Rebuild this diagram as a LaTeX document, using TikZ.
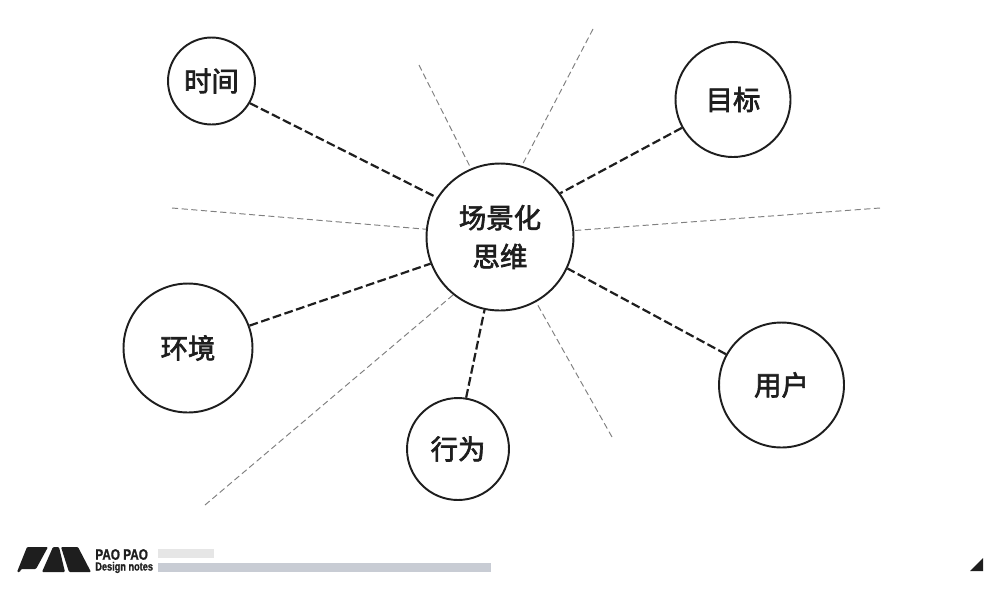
\documentclass[tikz,border=0pt]{standalone}
\usepackage{fontspec}
\setmainfont{Liberation Sans}
\newfontfamily\cjk{Noto Sans CJK SC}[FakeBold=2.4]
\newfontfamily\logofont{Liberation Sans}[FakeStretch=0.78,FakeBold=1]
\definecolor{darkline}{HTML}{1E1E1E}
\definecolor{barlight}{HTML}{E6E6E6}
\definecolor{bargrey}{HTML}{C8CCD4}
\tikzset{
  topic/.style={circle,draw=darkline,line width=1.1pt,fill=white,inner sep=0pt,align=center,
    text=darkline,font=\cjk\fontsize{15.6pt}{22pt}\selectfont},
  mainlink/.style={draw=darkline,line width=1.25pt,dash pattern=on 5pt off 2pt},
  thinlink/.style={draw=gray,line width=0.55pt,dash pattern=on 3.5pt off 2pt},
  logotext/.style={inner sep=0pt,anchor=west,text=darkline}
}
\begin{document}
\begin{tikzpicture}[x=0.02cm,y=-0.02cm]
  \useasboundingbox (0,0) rectangle (1000,589);
  % circles
  \node[topic,minimum size=2.94cm] (center) at (500,237) {场景化\\思维};
  \node[topic,minimum size=1.74cm] (time) at (211.5,81) {时间};
  \node[topic,minimum size=2.3cm] (goal) at (733,99.5) {目标};
  \node[topic,minimum size=2.58cm] (env) at (188,348) {环境};
  \node[topic,minimum size=2.5cm] (user) at (781.5,385) {用户};
  \node[topic,minimum size=2.04cm] (act) at (458,449) {行为};
  % links
  \draw[mainlink] (time.-30.5)--(center.148);
  \draw[mainlink] (goal.209)--(center.36);
  \draw[mainlink] (env.20)--(center.201);
  \draw[mainlink] (user.151)--(center.-25.5);
  \draw[mainlink] (act.81)--(center.258);
  % free ends
  \coordinate (e1) at (419,65);
  \coordinate (e2) at (593,29);
  \coordinate (e3) at (172,208);
  \coordinate (e4) at (880,208);
  \coordinate (e5) at (205,505);
  \coordinate (e6) at (612,437);
  \draw[thinlink] (e1)--(center.113);
  \draw[thinlink] (e2)--(center.73);
  \draw[thinlink] (e3)--(center.174);
  \draw[thinlink] (e4)--(center.5.4);
  \draw[thinlink] (e5)--(center.231.5);
  \draw[thinlink] (e6)--(center.-61.4);
  % footer
  \fill[darkline,rounded corners=0.6pt] (27,547)--(48,547)--(36,569)--(21,569)--(20,572)--(17,572)--cycle;
  \fill[darkline,rounded corners=0.6pt] (53,547)--(59,547)--(65,572)--(42,572)--cycle;
  \fill[darkline,rounded corners=0.6pt] (61,547)--(78,547)--(91,572)--(69,572)--cycle;
  \node[logotext,font=\logofont\bfseries\fontsize{8.6pt}{8.6pt}\selectfont] (brand) at (95,554.5) {PAO PAO};
  \node[logotext,font=\logofont\bfseries\fontsize{6.7pt}{6.7pt}\selectfont] (notes) at (95,567.5) {Design notes};
  \fill[barlight] (158,549) rectangle (214,558);
  \fill[bargrey] (158,563) rectangle (491,572);
  \fill[darkline] (970,571)--(983,571)--(983,558)--cycle;
\end{tikzpicture}
\end{document}
